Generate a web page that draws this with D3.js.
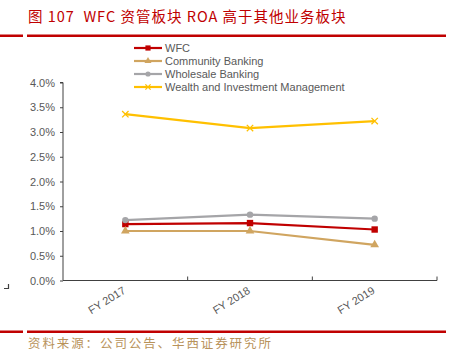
<!DOCTYPE html>
<html><head><meta charset="utf-8">
<script src="https://cdn.jsdelivr.net/npm/d3@7"></script>
<style>body{margin:0;background:#fff}svg{display:block}</style>
</head><body>
<script>
const categories = ["FY 2017", "FY 2018", "FY 2019"];
const wfc = [1.14, 1.16, 1.03];
const community = [1.00, 1.00, 0.72];
const wholesale = [1.22, 1.33, 1.25];
const wealth = [3.36, 3.08, 3.22];
const yTicks = [0, 0.5, 1, 1.5, 2, 2.5, 3, 3.5, 4];
const seriesNames = ["WFC", "Community Banking", "Wholesale Banking", "Wealth and Investment Management"];

const series = [
  {name: seriesNames[0], values: wfc, color: "#c00000", marker: "square"},
  {name: seriesNames[1], values: community, color: "#d0a560", marker: "triangle"},
  {name: seriesNames[2], values: wholesale, color: "#a5a5a8", marker: "circle"},
  {name: seriesNames[3], values: wealth, color: "#ffc000", marker: "x"}
];

const W = 461, H = 357;
const svg = d3.select("body").append("svg").attr("width", W).attr("height", H);
const font = "Liberation Sans, Arial, sans-serif";

// Title
svg.append("text").attr("x", 28).attr("y", 22)
  .attr("font-family", "Noto Sans CJK SC, sans-serif").attr("font-size", 14.5)
  .attr("letter-spacing", 1)
  .attr("fill", "#c00000").attr("xml:space", "preserve")
  .text("图 107  WFC 资管板块 ROA 高于其他业务板块");
// red rules
[[0, 23], [27, 446]].forEach(([a, b]) => {
  svg.append("rect").attr("x", a).attr("y", 34.5).attr("width", b - a).attr("height", 2.5).attr("fill", "#c00000");
  svg.append("rect").attr("x", a).attr("y", 330.5).attr("width", b - a).attr("height", 2.5).attr("fill", "#c00000");
});
// source
svg.append("text").attr("x", 28).attr("y", 348)
  .attr("font-family", "Noto Sans CJK SC, sans-serif").attr("font-size", 12.5)
  .attr("letter-spacing", 1.9)
  .attr("fill", "#b8925a").text("资料来源：公司公告、华西证券研究所");

// scales
const x = d3.scaleBand().domain(categories).range([63, 437]);
const y = d3.scaleLinear().domain([0, 4]).range([280.5, 82.5]);

// y axis
const yAxis = svg.append("g").attr("transform", "translate(63,0)")
  .call(d3.axisLeft(y).tickValues(yTicks).tickSize(3).tickPadding(5).tickFormat(d => d.toFixed(1) + "%"));
yAxis.select(".domain").attr("stroke", "#404040").attr("d", "M-3,82.5H0V280.5");
yAxis.selectAll(".tick line").attr("stroke", "#404040");
yAxis.selectAll("text").attr("font-family", font).attr("font-size", 11).attr("fill", "#595959");

// x axis
const xAxis = svg.append("g").attr("transform", "translate(0,280.5)");
xAxis.append("line").attr("x1", 63).attr("x2", 437).attr("stroke", "#404040");
const bw = x.bandwidth();
categories.forEach(c => {
  const tx = x(c) + bw;
  xAxis.append("line").attr("x1", tx).attr("x2", tx).attr("y1", 0).attr("y2", -4).attr("stroke", "#404040");
  xAxis.append("text").attr("transform", `translate(${x(c) + bw / 2 + 1},${12}) rotate(-32)`)
    .attr("text-anchor", "end").attr("font-family", font).attr("font-size", 11).attr("fill", "#595959").text(c);
});

// small corner mark
svg.append("path").attr("d", "M4,288.5H8.5V284").attr("stroke", "#404040").attr("fill", "none").attr("stroke-width", 1.2);

// markers
function drawMarker(g, type, cx, cy, color, s) {
  if (type === "square") g.append("rect").attr("x", cx - s).attr("y", cy - s).attr("width", 2 * s).attr("height", 2 * s).attr("fill", color);
  else if (type === "triangle") g.append("path").attr("d", d3.symbol(d3.symbolTriangle, s * s * 3.2)()).attr("transform", `translate(${cx},${cy})`).attr("fill", color);
  else if (type === "circle") g.append("circle").attr("cx", cx).attr("cy", cy).attr("r", s).attr("fill", color);
  else if (type === "x") g.append("path").attr("d", `M${cx - s},${cy - s}L${cx + s},${cy + s}M${cx - s},${cy + s}L${cx + s},${cy - s}`).attr("stroke", color).attr("stroke-width", 1.3);
}

const line = d3.line().x((d, i) => x(categories[i]) + bw / 2).y(d => y(d));
const plot = svg.append("g");
series.forEach(s => {
  plot.append("path").datum(s.values).attr("d", line).attr("fill", "none").attr("stroke", s.color).attr("stroke-width", 2.2);
});
series.forEach(s => {
  s.values.forEach((v, i) => drawMarker(plot, s.marker, x(categories[i]) + bw / 2, y(v), s.color, 3.2));
});

// legend
const leg = svg.append("g");
series.forEach((s, i) => {
  const ly = 48 + i * 13;
  leg.append("line").attr("x1", 134).attr("x2", 162).attr("y1", ly).attr("y2", ly).attr("stroke", s.color).attr("stroke-width", 2.2);
  drawMarker(leg, s.marker, 148, ly, s.color, 2.6);
  leg.append("text").attr("x", 165).attr("y", ly + 4).attr("font-family", font).attr("font-size", 11).attr("fill", "#595959").text(s.name);
});
</script>
</body></html>
